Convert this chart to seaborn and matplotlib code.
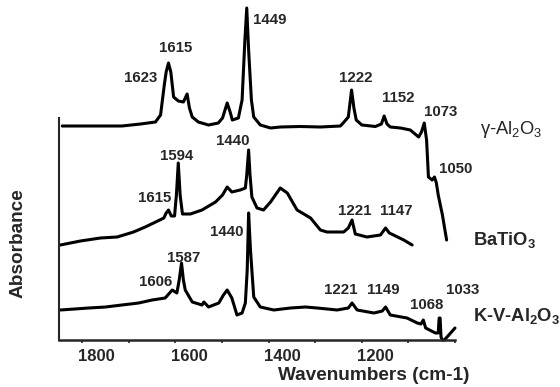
import numpy as np
import pandas as pd
import matplotlib
matplotlib.use("Agg")
import matplotlib.pyplot as plt
import matplotlib.transforms as mtransforms
from matplotlib.ticker import FixedLocator, FuncFormatter
import seaborn as sns

# ---------------- data (wavenumber cm-1, absorbance a.u., offset traces) ----------
wn_gamma = [1843, 1783, 1715, 1675, 1643, 1632, 1624, 1620, 1615, 1610, 1604, 1594,
            1583, 1575, 1570, 1564, 1551, 1529, 1508, 1499, 1489, 1482, 1478, 1465,
            1457, 1451, 1447, 1443, 1437, 1432, 1418, 1396, 1375, 1332, 1289, 1246,
            1240, 1229, 1222, 1217, 1212, 1200, 1171, 1158, 1152, 1146, 1139, 1117,
            1096, 1078, 1072, 1066, 1061, 1057, 1049, 1044, 1040, 1036, 1027, 1018]
abs_gamma = [2.14, 2.14, 2.14, 2.16, 2.18, 2.25, 2.55, 2.68, 2.77, 2.68, 2.43, 2.39,
             2.38, 2.46, 2.32, 2.23, 2.18, 2.15, 2.17, 2.22, 2.37, 2.27, 2.20, 2.22,
             2.40, 3.00, 3.32, 2.90, 2.40, 2.23, 2.15, 2.12, 2.13, 2.135, 2.13, 2.14,
             2.17, 2.23, 2.50, 2.32, 2.20, 2.15, 2.135, 2.16, 2.24, 2.16, 2.13, 2.12,
             2.10, 2.03, 2.08, 2.17, 2.00, 1.63, 1.60, 1.63, 1.57, 1.45, 1.25, 1.00]

wn_batio3 = [1847, 1804, 1761, 1725, 1690, 1665, 1647, 1625, 1620, 1615, 1609, 1602,
             1598, 1594, 1590, 1585, 1568, 1543, 1514, 1499, 1489, 1479, 1461, 1450,
             1447, 1443, 1440, 1436, 1425, 1411, 1396, 1375, 1360, 1339, 1310, 1289,
             1275, 1239, 1229, 1221, 1214, 1189, 1160, 1149, 1141, 1132, 1110, 1092]
abs_batio3 = [0.95, 0.99, 1.02, 1.03, 1.08, 1.13, 1.17, 1.22, 1.27, 1.30, 1.24, 1.24,
              1.45, 1.77, 1.45, 1.26, 1.26, 1.30, 1.38, 1.45, 1.53, 1.48, 1.50, 1.52,
              1.65, 1.90, 1.65, 1.43, 1.32, 1.30, 1.38, 1.52, 1.47, 1.30, 1.22, 1.10,
              1.08, 1.08, 1.12, 1.20, 1.06, 1.03, 1.05, 1.12, 1.07, 1.05, 1.00, 0.95]

wn_kv = [1847, 1786, 1750, 1715, 1679, 1650, 1622, 1607, 1597, 1592, 1587, 1583,
         1579, 1564, 1543, 1539, 1529, 1507, 1497, 1489, 1479, 1468, 1457, 1450,
         1446, 1443, 1439, 1432, 1418, 1389, 1353, 1321, 1296, 1253, 1229, 1221,
         1210, 1174, 1156, 1149, 1139, 1103, 1081, 1073, 1068, 1063, 1042, 1036,
         1034, 1032, 1030, 1027, 1023, 1017, 1000]
abs_kv = [0.30, 0.32, 0.33, 0.35, 0.37, 0.40, 0.42, 0.50, 0.47, 0.60, 0.77, 0.60,
          0.50, 0.38, 0.35, 0.38, 0.33, 0.37, 0.45, 0.50, 0.42, 0.25, 0.27, 0.37,
          0.70, 1.27, 0.90, 0.43, 0.33, 0.30, 0.32, 0.33, 0.32, 0.30, 0.32, 0.37,
          0.30, 0.27, 0.29, 0.33, 0.25, 0.22, 0.17, 0.16, 0.20, 0.12, 0.07, 0.07,
          0.22, 0.22, 0.03, 0.00, 0.00, 0.03, 0.12]

# peak labels: text, x (cm-1), y (a.u.)
peak_text = ["1623", "1615", "1449", "1222", "1152", "1073", "1050",
             "1594", "1440", "1615", "1221", "1147",
             "1440", "1587", "1606", "1221", "1149", "1068", "1033"]
peak_x = [1674, 1600, 1398, 1214, 1122, 1030, 998,
          1597, 1476, 1644, 1215, 1126,
          1490, 1583, 1643, 1246, 1155, 1061, 983]
peak_y = [2.625, 2.92, 3.205, 2.625, 2.417, 2.275, 1.708,
          1.842, 1.992, 1.425, 1.292, 1.292,
          1.075, 0.825, 0.575, 0.495, 0.495, 0.353, 0.495]

sample_text = ["γ-Al$_2$O$_3$", "BaTiO$_3$", "K-V-Al$_2$O$_3$"]
sample_x = [880, 894, 867]
sample_y = [2.11, 1.00, 0.24]
sample_weight = ["normal", "bold", "bold"]

xticks_major = [1800, 1700, 1600, 1500, 1400, 1300, 1200, 1100, 1000]
xtick_labels = {1800: "1800", 1600: "1600", 1400: "1400", 1200: "1200"}

# ---------------- plotting ----------------
sns.set_style("ticks")
plt.rcParams["font.family"] = ["Liberation Sans", "DejaVu Sans"]
plt.rcParams["mathtext.default"] = "regular"

fig = plt.figure(figsize=(5.6, 3.87), dpi=100)
ax = fig.add_axes([59 / 560, 47 / 387, (455 - 59) / 560, 340 / 387])

for wn, ab in [(wn_gamma, abs_gamma), (wn_batio3, abs_batio3), (wn_kv, abs_kv)]:
    df = pd.DataFrame({"wn": wn, "abs": ab})
    sns.lineplot(data=df, x="wn", y="abs", ax=ax, color="black", lw=2.2,
                 estimator=None, sort=False, clip_on=False)

ax.set_xlim(1850, 1000)
ax.set_ylim(0, 3.40)

for s in ["top", "right"]:
    ax.spines[s].set_visible(False)
ax.spines["left"].set_bounds(0, 2.22)
ax.spines["left"].set_linewidth(1.5)
ax.spines["bottom"].set_linewidth(1.8)
ax.set_yticks([])

ax.xaxis.set_major_locator(FixedLocator(xticks_major))
ax.xaxis.set_major_formatter(FuncFormatter(lambda v, p: xtick_labels.get(int(round(v)), "")))
ax.tick_params(axis="x", direction="out", length=2.5, width=1.2, pad=4,
               labelsize=12)
for lab in ax.get_xticklabels():
    lab.set_fontweight("bold")
offset = mtransforms.ScaledTranslation(14 / 100, 0, fig.dpi_scale_trans)
for lab in ax.xaxis.get_majorticklabels():
    lab.set_transform(lab.get_transform() + offset)

ax.set_xlabel("")
ax.set_ylabel("")
fig.text(374 / 560, 1 - 376 / 387, "Wavenumbers (cm-1)", ha="center", va="center",
         fontsize=13.7, fontweight="bold")
fig.text(18.5 / 560, 1 - 243 / 387, "Absorbance", ha="center", va="center",
         rotation=90, fontsize=13.7, fontweight="bold")

for t, x, y in zip(peak_text, peak_x, peak_y):
    ax.text(x, y, t, ha="center", va="center", fontsize=10.8, fontweight="bold",
            clip_on=False)

for t, x, y, w in zip(sample_text, sample_x, sample_y, sample_weight):
    ax.text(x, y, t, ha="center", va="center", fontsize=13.2, fontweight=w,
            clip_on=False)

fig.savefig("out.png", dpi=100)
